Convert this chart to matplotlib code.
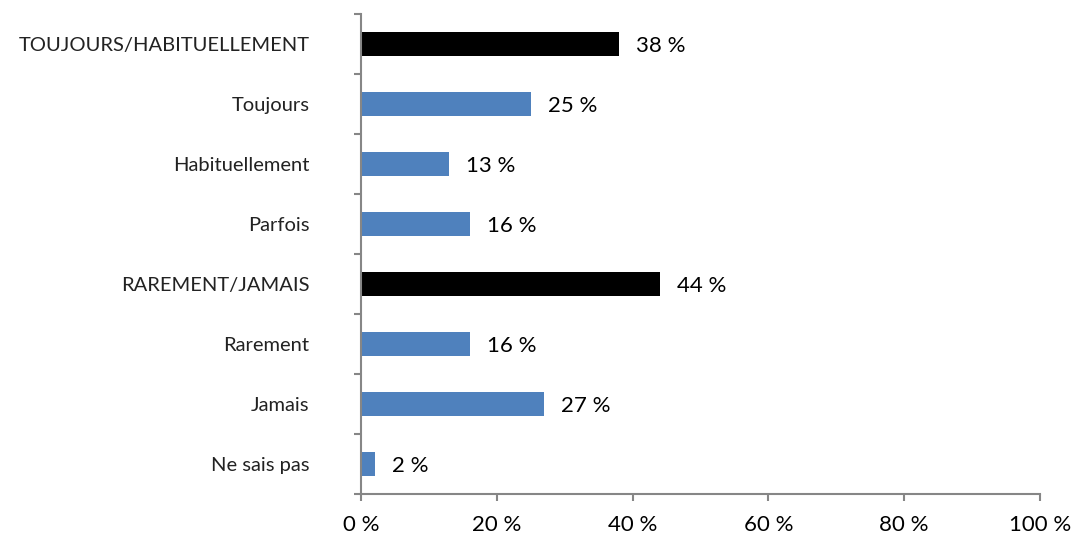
import matplotlib
matplotlib.use('Agg')
import matplotlib.pyplot as plt
import numpy as np

plt.rcParams['font.family'] = ['Lato', 'DejaVu Sans']

# data
categories = ['TOUJOURS/HABITUELLEMENT', 'Toujours', 'Habituellement', 'Parfois',
              'RAREMENT/JAMAIS', 'Rarement', 'Jamais', 'Ne sais pas']
values = [38, 25, 13, 16, 44, 16, 27, 2]
is_total = [True, False, False, False, True, False, False, False]
x_ticks = [0, 20, 40, 60, 80, 100]

colors = ['#000000' if t else '#4F81BD' for t in is_total]

fig = plt.figure(figsize=(10.76, 5.38), dpi=100)
ax = fig.add_axes([0.3355, 0.0818, 0.6310, 0.8922])

y = np.arange(len(categories))
ax.barh(y, values, height=0.4, color=colors)
ax.set_ylim(len(categories) - 0.5, -0.5)
ax.set_xlim(0, 100)

for yi, v in zip(y, values):
    ax.text(v + 2.5, yi + 0.03, f'{v} %', va='center', ha='left', fontsize=16, color='black')

ax.set_xticks(x_ticks)
ax.set_xticklabels([f'{t} %' for t in x_ticks], fontsize=16)
ax.set_yticks(y)
ax.set_yticklabels(categories, fontsize=14.5, color='#222222')
ax.set_yticks(np.arange(-0.5, len(categories)), minor=True)

grey = '#868686'
for s in ['top', 'right']:
    ax.spines[s].set_visible(False)
for s in ['left', 'bottom']:
    ax.spines[s].set_color(grey)
    ax.spines[s].set_linewidth(1.5)

ax.tick_params(axis='y', which='major', length=0, pad=37)
ax.tick_params(axis='y', which='minor', length=5, width=1.5, color=grey)
ax.tick_params(axis='x', which='major', length=5, width=1.5, color=grey, pad=10)

plt.savefig('out.png', dpi=100)
